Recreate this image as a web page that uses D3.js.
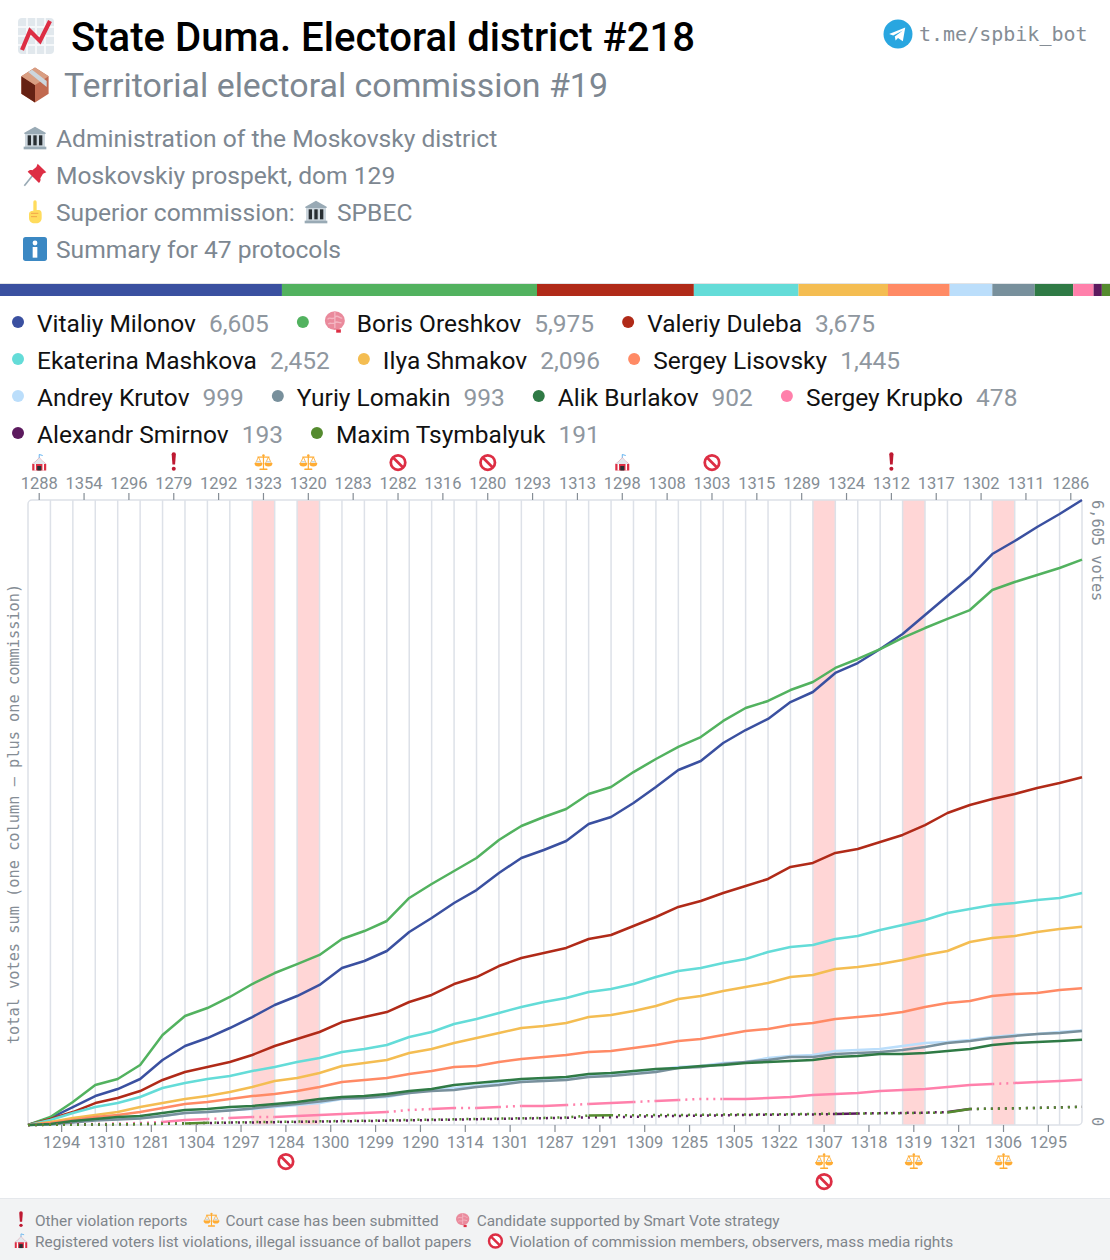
<!DOCTYPE html>
<html>
<head>
<meta charset="utf-8">
<script src="https://cdn.jsdelivr.net/npm/d3@7/dist/d3.min.js"></script>
<style>
html,body{margin:0;padding:0;background:#fff}
svg{display:block}
text{font-family:Roboto,sans-serif}
.mono{font-family:"DejaVu Sans Mono",monospace}
</style>
</head>
<body>
<div id="chart"></div>
<script>
// ---------- data ----------
const topCommissions = [1288,1354,1296,1279,1292,1323,1320,1283,1282,1316,1280,1293,1313,1298,1308,1303,1315,1289,1324,1312,1317,1302,1311,1286];
const bottomCommissions = [1294,1310,1281,1304,1297,1284,1300,1299,1290,1314,1301,1287,1291,1309,1285,1305,1322,1307,1318,1319,1321,1306,1295];

const candidateNames = ["Vitaliy Milonov","Boris Oreshkov","Valeriy Duleba","Ekaterina Mashkova","Ilya Shmakov","Sergey Lisovsky","Andrey Krutov","Yuriy Lomakin","Alik Burlakov","Sergey Krupko","Alexandr Smirnov","Maxim Tsymbalyuk"];
const candidateTotals = [6605,5975,3675,2452,2096,1445,999,993,902,478,193,191];
const candidateColors = ["#3a50a0","#52b25f","#b02a18","#64dcd8","#f4bd52","#ff8a65","#bbdefb","#78909c","#2f7a45","#ff80ab","#5c1a5e","#558b2f"];
const smartVoteCandidate = "Boris Oreshkov";

const milonov = [0,74,190,306,380,486,687,835,919,1025,1141,1268,1363,1480,1659,1733,1839,2040,2188,2346,2483,2663,2822,2906,3001,3181,3255,3403,3572,3752,3847,4037,4174,4291,4470,4576,4777,4882,5030,5189,5390,5590,5791,6034,6172,6320,6457,6605];
const oreshkov = [0,85,243,423,486,634,951,1152,1236,1353,1490,1606,1701,1797,1966,2050,2156,2399,2547,2684,2822,3012,3160,3255,3339,3498,3572,3730,3868,3995,4100,4270,4407,4481,4597,4682,4830,4925,5030,5147,5252,5348,5442,5654,5738,5812,5886,5975];
const duleba = [0,63,137,232,285,359,476,560,613,666,740,835,909,983,1088,1141,1194,1300,1374,1490,1564,1680,1765,1818,1871,1966,2008,2103,2198,2304,2367,2452,2526,2600,2727,2769,2875,2917,2991,3065,3170,3297,3382,3445,3498,3561,3614,3675];
const mashkova = [0,53,127,190,232,296,391,444,486,518,571,613,666,708,771,803,845,930,983,1067,1120,1184,1247,1300,1342,1406,1437,1490,1564,1627,1659,1712,1754,1828,1881,1902,1966,1997,2061,2114,2166,2240,2283,2325,2346,2378,2399,2452];
const shmakov = [0,32,74,106,137,190,232,275,306,349,402,465,497,550,624,655,687,761,803,867,919,972,1025,1046,1078,1141,1162,1205,1258,1332,1363,1416,1458,1501,1564,1585,1649,1670,1701,1744,1797,1839,1934,1976,1997,2040,2071,2096];
const lisovsky = [0,21,53,85,106,137,180,222,243,275,306,328,359,402,454,476,497,539,571,613,624,666,698,719,740,771,782,814,845,888,909,951,993,1015,1057,1078,1120,1141,1162,1194,1247,1289,1310,1363,1384,1395,1427,1445];
const krutov = [0,5,32,53,63,74,95,127,137,159,169,190,211,232,275,285,296,338,370,391,412,444,476,486,486,518,528,560,581,613,624,655,666,708,729,740,782,793,803,835,867,877,898,930,951,962,983,999];
const lomakin = [0,5,26,48,58,69,95,127,137,153,174,201,222,248,280,285,306,338,359,370,402,423,454,465,476,507,518,539,560,602,613,645,666,687,719,719,750,761,771,793,824,867,888,919,941,962,972,993];
const burlakov = [0,11,42,63,85,95,127,159,169,190,201,222,243,275,296,306,328,359,380,423,444,465,486,497,507,539,550,571,592,602,624,634,655,666,676,687,719,729,750,750,761,782,803,845,867,877,888,902];
const krupko = [0,5,11,11,16,21,32,53,63,74,85,85,95,106,116,127,137,159,169,180,180,190,201,201,211,222,232,243,254,264,275,275,275,285,296,317,328,338,359,370,380,402,423,433,444,454,465,478];
const smirnov = [0,2,4,5,7,10,14,18,21,25,27,30,33,36,39,42,46,49,53,57,61,65,68,72,76,80,83,87,91,95,99,102,106,108,110,112,116,122,125,128,131,137,169,173,177,181,187,193];
const tsymbalyuk = [0,2,3,5,7,9,12,16,24,27,30,33,36,39,42,45,49,53,57,60,64,68,71,75,80,100,102,103,105,106,108,110,111,113,115,117,119,121,123,125,128,132,168,172,176,180,185,191];

// columns (commission index) whose segment is dotted instead of solid
const krupkoDottedColumns = [0,1,2,3,4,5,8,10,16,17,19,21,24,27,29,30,43];
const smirnovSolidColumns = [36,41];
const tsymbalyukSolidColumns = [7,25,41];

const courtCaseCommissions = [1323,1320,1307,1319,1306];
const topFlags = [[1288,"ballot"],[1279,"exclaim"],[1323,"scales"],[1320,"scales"],[1282,"noentry"],[1280,"noentry"],[1298,"ballot"],[1303,"noentry"],[1312,"exclaim"]];
const bottomFlags = [[1284,"noentry",0],[1307,"scales",0],[1307,"noentry",1],[1319,"scales",0],[1306,"scales",0]];

const infoLines = [["bank","Administration of the Moskovsky district"],["pin","Moskovskiy prospekt, dom 129"],["finger","Superior commission:"],["info","Summary for 47 protocols"]];
const footerRows = [
  [["exclaim","Other violation reports"],["scales","Court case has been submitted"],["brain","Candidate supported by Smart Vote strategy"]],
  [["ballot","Registered voters list violations, illegal issuance of ballot papers"],["noentry","Violation of commission members, observers, mass media rights"]]
];

// ---------- setup ----------
const W = 1110, H = 1260;
const plot = {l:28, r:1082, t:500, b:1125};
const GREY = "#7d8791", TICK = "#858d95";
const TXT = 24.6, LEGEND_TXT = 24.5;
const svg = d3.select("#chart").append("svg").attr("width",W).attr("height",H);

const icons = {
  chart:`<rect width="36" height="36" rx="4" fill="#e1e8ed"/><path d="M0 9H36M0 18H36M0 27H36M9 0V36M18 0V36M27 0V36" stroke="#f5f8fa" stroke-width="2"/><path d="M4 32L12 13L22 23L32 3" fill="none" stroke="#dd2e44" stroke-width="4.2"/>`,
  box:`<path d="M18 0L32 9V27L18 36L4 27V9Z" fill="#c1694f"/><path d="M4 9L18 18V36L4 27Z" fill="#662113"/><path d="M18 0L32 9L18 18L4 9Z" fill="#d99e82"/><path d="M11 4.5L15 2.2L30 14V20L25 16Z" fill="#ccd6dd"/>`,
  bank:`<path d="M18 1L34 10V12H2V10Z" fill="#99aab5"/><rect x="3" y="12" width="30" height="20" fill="#ccd6dd"/><rect x="7" y="14" width="5" height="15" fill="#292f33"/><rect x="15.5" y="14" width="5" height="15" fill="#292f33"/><rect x="24" y="14" width="5" height="15" fill="#292f33"/><rect x="1" y="31" width="34" height="4" fill="#99aab5"/>`,
  pin:`<path d="M2 34L15 18" stroke="#99aab5" stroke-width="2.5"/><path d="M22 1L35 14L30 16L26 23C27 26 26 28 24 30L7 13C9 11 11 10 14 11L20 6Z" fill="#dd2e44"/>`,
  finger:`<path d="M15.5 3a2.5 2.5 0 0 1 5 0V15h2c5 0 5.500 3 5.500 7v5c0 5-4 8-8 8h-3c-4 0-8-3-8-8v-6c0-3 2-5 6.500-5Z" fill="#ffdc5d"/><path d="M12 20h11M12 25h9" stroke="#ef9645" stroke-width="1.2" fill="none"/>`,
  info:`<rect width="36" height="36" rx="4" fill="#3b88c3"/><circle cx="18" cy="9" r="3.6" fill="#fff"/><rect x="14.5" y="15" width="7" height="16" fill="#fff"/>`,
  brain:`<ellipse cx="18" cy="16" rx="15" ry="14" fill="#ea8a9c"/><path d="M7 14c4-5 7 2 11-3s7 2 11 1M8 21c4-3 6 1 10-2s6 1 10 0M18 3v24" fill="none" stroke="#f4b6c2" stroke-width="2"/><path d="M20 29h7v5h-7z" fill="#dd2e44"/>`,
  ballot:`<path d="M18 9V2L25 4" fill="none" stroke="#55acee" stroke-width="1.8"/><path d="M4 34V21Q11 16 18 8Q25 16 32 21V34Z" fill="#dd2e44"/><path d="M18 8Q11 16 4 21H32Q25 16 18 8Z" fill="#e1e8ed"/><path d="M10 21v13M26 21v13" stroke="#fff" stroke-width="3"/><path d="M14 34V25h8v9Z" fill="#292f33"/>`,
  exclaim:`<path d="M14 2.5a4 4 0 0 1 8 0L20.500 22h-5Z" fill="#be1931"/><circle cx="18" cy="30" r="3.8" fill="#be1931"/>`,
  scales:`<rect x="16.800" y="3" width="2.4" height="28" fill="#ffac33"/><rect x="6" y="6" width="24" height="2.4" fill="#ffac33"/><rect x="10" y="30" width="16" height="3.2" rx="1" fill="#ffac33"/><circle cx="18" cy="4" r="2.5" fill="#ffac33"/><path d="M8 7L2 20M8 7L14 20M28 7L22 20M28 7L34 20" stroke="#ffac33" stroke-width="1.8" fill="none"/><path d="M0 19H16A8 7 0 0 1 0 19ZM20 19H36A8 7 0 0 1 20 19Z" fill="#ffac33"/><path d="M4 16.500H12M24 16.500H32" stroke="#ccd6dd" stroke-width="3"/>`,
  noentry:`<circle cx="18" cy="18" r="14.5" fill="#fff" stroke="#dd2e44" stroke-width="5.5"/><path d="M8 8L28 28" stroke="#dd2e44" stroke-width="5.5"/>`,
  telegram:`<circle cx="18" cy="18" r="18" fill="#29a6e0"/><path d="M7 18L27 10L24 27L18 23L15 26L14 21L24 13.5L12 20Z" fill="#fff"/>`
};
function icon(name,cx,cy,size){
  return svg.append("g").attr("transform",`translate(${cx-size/2},${cy-size/2}) scale(${size/36})`).html(icons[name]);
}

// ---------- header ----------
icon("chart",36,36,36);
svg.append("text").attr("x",71).attr("y",51).attr("font-size",40.1).attr("font-weight",500).attr("fill","#000").text("State Duma. Electoral district #218");
icon("box",35,85,35);
svg.append("text").attr("x",64).attr("y",97).attr("font-size",33.9).attr("fill",GREY).text("Territorial electoral commission #19");
const infoY = d3.scalePoint().domain(infoLines.map(d=>d[0])).range([138,249]);
infoLines.forEach(([ic,label])=>{
  const y = infoY(ic);
  icon(ic,35,y,24);
  svg.append("text").attr("x",56).attr("y",y+8.5).attr("font-size",TXT).attr("fill",GREY).text(label);
});
icon("bank",316,infoY("finger"),24);
svg.append("text").attr("x",337).attr("y",infoY("finger")+8.5).attr("font-size",TXT).attr("fill",GREY).text("SPBEC");
icon("telegram",898,34,29);
svg.append("text").attr("class","mono").attr("x",919).attr("y",41).attr("font-size",20).attr("fill",TICK).text("t.me/spbik_bot");

// ---------- stacked bar ----------
const barX = d3.scaleLinear().domain([0,d3.sum(candidateTotals)]).range([0,W]);
let acc = 0;
svg.append("line").attr("x1",0).attr("x2",W).attr("y1",283.5).attr("y2",283.5).attr("stroke","#e2e4e6");
candidateTotals.forEach((v,i)=>{
  svg.append("rect").attr("x",barX(acc)).attr("y",284).attr("width",barX(v)).attr("height",12).attr("fill",candidateColors[i]);
  acc += v;
});

// ---------- legend ----------
let lx = 18, ly = 323;
const fmt = d3.format(",");
const legendWrapAt = 1100;
candidateNames.forEach((name,i)=>{
  const smart = name === smartVoteCandidate;
  const g = svg.append("g");
  const label = g.append("text").attr("y",ly+8.5).attr("font-size",LEGEND_TXT).attr("fill","#111").text(name);
  const count = g.append("text").attr("y",ly+8.5).attr("font-size",LEGEND_TXT).attr("fill","#8f979f").text(fmt(candidateTotals[i]));
  const nameW = label.node().getComputedTextLength(), countW = count.node().getComputedTextLength();
  const lead = smart ? 54 : 19;
  if (lx + lead + nameW + 13 + countW > legendWrapAt) {
    lx = 18; ly += 37;
    label.attr("y",ly+8.5); count.attr("y",ly+8.5);
  }
  label.attr("x",lx+lead);
  count.attr("x",lx+lead+nameW+13);
  svg.append("circle").attr("cx",lx).attr("cy",ly-1).attr("r",6).attr("fill",candidateColors[i]);
  if (smart) icon("brain",lx+32,ly-1,24);
  lx += lead+nameW+13+countW+34;
});

// ---------- plot ----------
const commissions = [];
topCommissions.forEach((c,i)=>{ commissions.push(c); if (i<bottomCommissions.length) commissions.push(bottomCommissions[i]); });
const band = d3.scaleBand().domain(commissions).range([plot.l,plot.r]);
const xIdx = d3.scaleLinear().domain([0,commissions.length]).range([plot.l,plot.r]);
const y = d3.scaleLinear().domain([0,d3.max(candidateTotals)]).range([plot.b,plot.t]);

svg.append("g").selectAll("rect").data(courtCaseCommissions).join("rect")
  .attr("x",d=>band(d)).attr("y",plot.t).attr("width",band.bandwidth()).attr("height",plot.b-plot.t).attr("fill","#ffd6d6");

svg.append("g").selectAll("line").data(d3.range(1,commissions.length)).join("line")
  .attr("x1",d=>xIdx(d)).attr("x2",d=>xIdx(d)).attr("y1",plot.t).attr("y2",plot.b)
  .attr("stroke","#dde1e8").attr("stroke-width",1.5);
svg.append("rect").attr("x",plot.l).attr("y",plot.t).attr("width",plot.r-plot.l).attr("height",plot.b-plot.t)
  .attr("rx",4).attr("fill","none").attr("stroke","#dde1e8").attr("stroke-width",1.5);

function styleAxis(g){
  g.select(".domain").remove();
  g.selectAll(".tick line").attr("stroke",TICK).attr("stroke-width",1.2);
  g.selectAll(".tick text").attr("font-family","Roboto,sans-serif").attr("font-size",16.5).attr("fill",TICK);
}
svg.append("g").attr("transform",`translate(0,${plot.t})`)
  .call(d3.axisTop(band).tickValues(topCommissions).tickSize(7).tickPadding(4)).call(styleAxis);
svg.append("g").attr("transform",`translate(0,${plot.b})`)
  .call(d3.axisBottom(band).tickValues(bottomCommissions).tickSize(7).tickPadding(4)).call(styleAxis);

// flags
const bc = c => band(c)+band.bandwidth()/2;
topFlags.forEach(([c,k])=>icon(k,bc(c),462.5,k==="exclaim"?19:18));
bottomFlags.forEach(([c,k,row])=>icon(k,bc(c),1161.5+row*20,18));

// series
const seriesValues = [milonov,oreshkov,duleba,mashkova,shmakov,lisovsky,krutov,lomakin,burlakov,krupko,smirnov,tsymbalyuk];
const dottedTest = {
  "Sergey Krupko": i=>krupkoDottedColumns.includes(i),
  "Alexandr Smirnov": i=>!smirnovSolidColumns.includes(i),
  "Maxim Tsymbalyuk": i=>!tsymbalyukSolidColumns.includes(i)
};
const line = d3.line().x(d=>xIdx(d[0])).y(d=>y(d[1]));
seriesValues.forEach((vals,s)=>{
  const name = candidateNames[s], test = dottedTest[name] || (()=>false);
  let start = 0;
  for (let i=1;i<vals.length;i++){
    const atEnd = i===vals.length-1;
    if (atEnd || test(i)!==test(start)){
      const pts = d3.range(start,i+1).map(k=>[k,vals[k]]);
      const dotted = test(start);
      svg.append("path").attr("d",line(pts)).attr("fill","none")
        .attr("stroke",candidateColors[s]).attr("stroke-width",2.5)
        .attr("stroke-linejoin","round")
        .attr("stroke-dasharray",dotted?"2 5":null);
      start = i;
    }
  }
});

// side labels
svg.append("text").attr("class","mono").attr("transform","translate(19,814) rotate(-90)").attr("text-anchor","middle")
  .attr("font-size",15.3).attr("fill",TICK).text("total votes sum (one column – plus one commission)");
svg.append("text").attr("class","mono").attr("transform",`translate(1092,${plot.t}) rotate(90)`)
  .attr("font-size",15.3).attr("fill",TICK).text(fmt(d3.max(candidateTotals))+" votes");
svg.append("text").attr("class","mono").attr("transform",`translate(1092,${plot.b-8}) rotate(90)`)
  .attr("font-size",15.3).attr("fill",TICK).text("0");

// ---------- footer ----------
svg.append("rect").attr("x",0).attr("y",1198).attr("width",W).attr("height",62).attr("fill","#f2f3f4");
svg.append("line").attr("x1",0).attr("x2",W).attr("y1",1198.5).attr("y2",1198.5).attr("stroke","#e5e8ec");
footerRows.forEach((row,r)=>{
  let fx = 35; const fy = 1221+r*21;
  row.forEach(([ic,label])=>{
    icon(ic,fx-14,fy-1,16);
    const t = svg.append("text").attr("x",fx).attr("y",fy+5).attr("font-size",15.4).attr("fill","#7f858b").text(label);
    fx += t.node().getComputedTextLength()+38;
  });
});
</script>
</body>
</html>
